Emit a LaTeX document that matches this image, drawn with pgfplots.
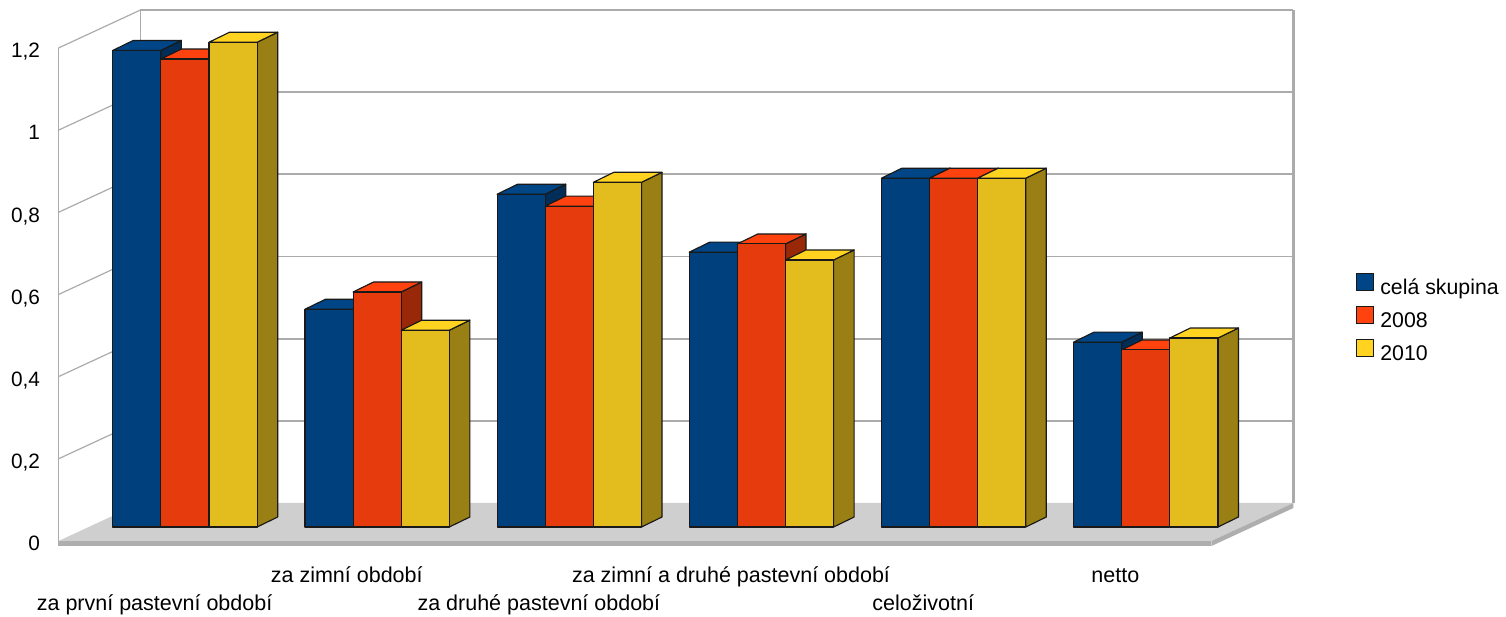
\documentclass[border=0pt]{standalone}
\usepackage{pgfplots}
\pgfplotsset{compat=1.18}
\usepackage{fontspec}
\setmainfont{Liberation Sans}

\definecolor{cbfront}{HTML}{00407C}
\definecolor{cbside}{HTML}{002E59}
\definecolor{cbtop}{HTML}{004586}
\definecolor{crfront}{HTML}{E63C0D}
\definecolor{crside}{HTML}{992809}
\definecolor{crtop}{HTML}{FF420E}
\definecolor{cyfront}{HTML}{E3BD1E}
\definecolor{cyside}{HTML}{997F14}
\definecolor{cytop}{HTML}{FFD320}
\definecolor{wallline}{HTML}{ABABAB}
\definecolor{floortop}{HTML}{CFCFCF}
\definecolor{flooredge}{HTML}{AEAEAE}

% Oblique projection: wall depth and bar placement in axis units
\newcommand{\wallx}{0.4267}
\newcommand{\wally}{0.0925}
\newcommand{\basey}{0.0341}
\newcommand{\barw}{0.2505}
\newcommand{\depthx}{0.1067}
\newcommand{\depthy}{0.0243}

% #1 category, #2 series, #3 value, #4 colour prefix
\newcommand{\threedbar}[4]{%
  \pgfmathsetmacro{\xa}{#1-0.2175+#2*\barw}%
  \pgfmathsetmacro{\xb}{\xa+\barw}%
  \pgfmathsetmacro{\xc}{\xb+\depthx}%
  \pgfmathsetmacro{\xd}{\xa+\depthx}%
  \pgfmathsetmacro{\ya}{\basey}%
  \pgfmathsetmacro{\yb}{\basey+#3}%
  \pgfmathsetmacro{\yc}{\yb+\depthy}%
  \pgfmathsetmacro{\ye}{\ya+\depthy}%
  \addplot[forget plot, fill=#4side, barline] coordinates {(\xb,\ya) (\xc,\ye) (\xc,\yc) (\xb,\yb)} --cycle;
  \addplot[forget plot, fill=#4top, barline] coordinates {(\xa,\yb) (\xb,\yb) (\xc,\yc) (\xd,\yc)} --cycle;
  \addplot[forget plot, fill=#4front, barline] coordinates {(\xa,\ya) (\xb,\ya) (\xb,\yb) (\xa,\yb)} --cycle;
}

% #1 tick value: diagonal on the side wall, then the line along the back wall
\newcommand{\wallgrid}[1]{%
  \pgfmathsetmacro{\yg}{#1+\wally}%
  \addplot[forget plot, wallline, line width=1.2pt] coordinates {(-0.5,#1) (-0.5+\wallx,\yg)};
  \addplot[forget plot, wallline, line width=1.7pt] coordinates {(-0.5+\wallx,\yg) (5.5+\wallx,\yg)};
}

\begin{document}
\begin{tikzpicture}[x=1pt,y=1pt,
    barline/.style={draw=black!90, line width=1.15pt, line join=round}]
\useasboundingbox (0,0) rectangle (1506,617);
\begin{axis}[
    at={(58.5pt,76pt)}, anchor=south west,
    scale only axis, width=1153pt, height=493pt,
    xmin=-0.5, xmax=5.5, ymin=0, ymax=1.2,
    clip=false,
    axis line style={draw=none},
    major tick length=0pt,
    tick style={draw=none},
    /pgf/number format/fixed,
    /pgf/number format/use comma,
    /pgf/number format/assume math mode=true,
    ytick={0,0.2,0.4,0.6,0.8,1,1.2},
    ytick pos=left,
    y tick label style={xshift=-15pt, yshift=-5pt, font=\fontsize{20.8}{24}\selectfont},
    typeset ticklabels with strut,
    xtick={0,2,4},
    xticklabels={za první pastevní období,za druhé pastevní období,celoživotní},
    x tick label style={yshift=-49pt, font=\fontsize{21.5}{24}\selectfont},
    extra x ticks={1,3,5},
    extra x tick labels={za zimní období,za zimní a druhé pastevní období,netto},
    extra x tick style={x tick label style={yshift=28pt}, major tick length=0pt},
    legend cell align=left,
    legend style={draw=none, fill=none, at={(1.1224,0.5478)}, anchor=north west,
      row sep=8pt, font=\fontsize{21.3}{24}\selectfont},
    legend image code/.code={\draw[#1] (0pt,-3pt) rectangle (17pt,14pt); \path[draw=none,fill=none] (0pt,0pt) -- (22pt,0pt);},
]
% Walls
\addplot[forget plot, fill=white, draw=none] coordinates {(-0.5+\wallx,\wally) (5.5+\wallx,\wally) (5.5+\wallx,1.2+\wally) (-0.5+\wallx,1.2+\wally)} --cycle;
\addplot[forget plot, wallline, line width=1.2pt] coordinates {(-0.5,0) (-0.5,1.2)};
\addplot[forget plot, wallline, line width=1.2pt] coordinates {(-0.5+\wallx,\wally) (-0.5+\wallx,1.2+\wally)};
\wallgrid{0.2}
\wallgrid{0.4}
\wallgrid{0.6}
\wallgrid{0.8}
\wallgrid{1}
\wallgrid{1.2}
\addplot[forget plot, wallline, line width=2.2pt] coordinates {(5.5+\wallx,\wally) (5.5+\wallx,1.2+\wally)};
% Floor slab
\addplot[forget plot, fill=floortop, draw=none] coordinates {(-0.5,0) (5.5,0) (5.5+\wallx,\wally) (-0.5+\wallx,\wally)} --cycle;
\addplot[forget plot, fill=flooredge, draw=none] coordinates {(-0.5,0) (5.5,0) (5.5,-0.0122) (-0.5,-0.0122)} --cycle;
\addplot[forget plot, fill=flooredge, draw=none] coordinates {(5.5,0) (5.5+\wallx,\wally) (5.5+\wallx,\wally-0.0122) (5.5,-0.0122)} --cycle;
% Bars, left to right
\threedbar{0}{0}{1.16}{cb}
\threedbar{0}{1}{1.139}{cr}
\threedbar{0}{2}{1.18}{cy}
\threedbar{1}{0}{0.530}{cb}
\threedbar{1}{1}{0.572}{cr}
\threedbar{1}{2}{0.479}{cy}
\threedbar{2}{0}{0.81}{cb}
\threedbar{2}{1}{0.781}{cr}
\threedbar{2}{2}{0.839}{cy}
\threedbar{3}{0}{0.669}{cb}
\threedbar{3}{1}{0.689}{cr}
\threedbar{3}{2}{0.650}{cy}
\threedbar{4}{0}{0.849}{cb}
\threedbar{4}{1}{0.849}{cr}
\threedbar{4}{2}{0.849}{cy}
\threedbar{5}{0}{0.45}{cb}
\threedbar{5}{1}{0.431}{cr}
\threedbar{5}{2}{0.46}{cy}
% Key
\addlegendimage{fill=cbtop, draw=black!90, line width=1.15pt}
\addlegendentry{celá skupina}
\addlegendimage{fill=crtop, draw=black!90, line width=1.15pt}
\addlegendentry{2008}
\addlegendimage{fill=cytop, draw=black!90, line width=1.15pt}
\addlegendentry{2010}
\end{axis}
\end{tikzpicture}
\end{document}
